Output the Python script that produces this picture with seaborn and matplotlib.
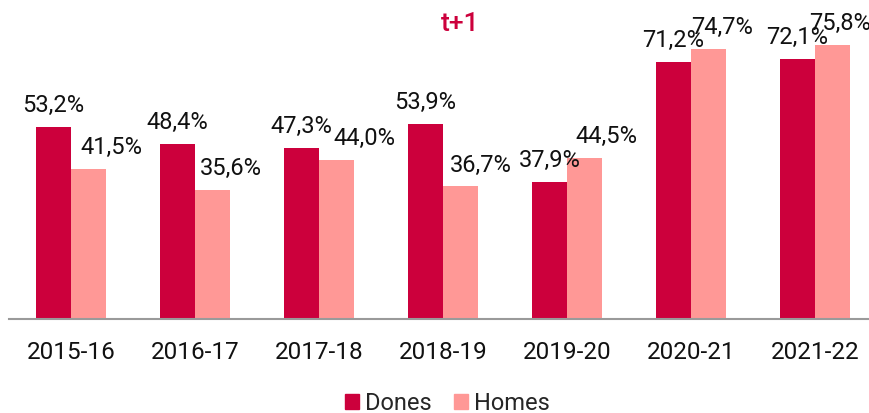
import pandas as pd
import matplotlib.pyplot as plt
import seaborn as sns

# Data
cursos = ["2015-16", "2016-17", "2017-18", "2018-19", "2019-20", "2020-21", "2021-22"]
dones = [53.2, 48.4, 47.3, 53.9, 37.9, 71.2, 72.1]
homes = [41.5, 35.6, 44.0, 36.7, 44.5, 74.7, 75.8]

df = pd.DataFrame({
    "Curs": cursos * 2,
    "Sexe": ["Dones"] * len(cursos) + ["Homes"] * len(cursos),
    "Valor": dones + homes,
})

colors = {"Dones": "#CC003C", "Homes": "#FF9896"}

sns.set_style("white")
plt.rcParams["font.family"] = ["Roboto", "DejaVu Sans"]

fig = plt.figure(figsize=(8.7, 4.14), dpi=100)
ax = fig.add_axes([9 / 870, 94 / 414, 868 / 870, 320 / 414])

sns.barplot(data=df, x="Curs", y="Valor", hue="Sexe", palette=colors,
            width=0.57, saturation=1, linewidth=0, ax=ax, legend=False)

ax.set_xlim(-0.5, 6.5)
ax.set_ylim(0, 88.6)
ax.set_xlabel("")
ax.set_ylabel("")
ax.set_yticks([])

# Axis line and separators between categories
for s in ["top", "right", "left"]:
    ax.spines[s].set_visible(False)
ax.spines["bottom"].set_color("#9a9a9a")
ax.spines["bottom"].set_linewidth(1.5)
ax.set_xticks(range(len(cursos)))
ax.set_xticklabels(cursos, fontsize=17.5, color="#111111")
ax.tick_params(axis="x", which="major", length=0, pad=15)
ax.set_xticks([i - 0.5 for i in range(len(cursos) + 1)], minor=True)
ax.tick_params(axis="x", which="minor", length=7, width=1.5, color="#9a9a9a", direction="out")

# Data labels
def fmt(v):
    return f"{v:.1f}".replace(".", ",") + "%"

# horizontal shift of the Homes labels (px), as in the original layout
homes_dx = [23, 18, 28, 20, 22, 13, 7]

n = len(cursos)
for i, p in enumerate(ax.patches[:2 * n]):
    v = p.get_height()
    cx = p.get_x() + p.get_width() / 2
    dx = 0 if i < n else homes_dx[i - n] * 0.72
    ax.annotate(fmt(v), (cx, v), xytext=(dx, 11.5), textcoords="offset points",
                ha="center", va="baseline", fontsize=17, color="#111111",
                annotation_clip=False)

# Legend
handles = [plt.Rectangle((0, 0), 1, 1, color=colors[k]) for k in ["Dones", "Homes"]]
fig.legend(handles, ["Dones", "Homes"], loc="lower center", ncol=2,
           bbox_to_anchor=(0.514, -0.032), frameon=False,
           prop={"size": 17},
           handlelength=0.6, handleheight=0.6, handletextpad=0.25,
           columnspacing=0.95, borderpad=0)

# Title (second line visible)
fig.text(460 / 870, 1 - 24 / 414, "t+1", ha="center", va="center",
         fontsize=19, fontweight="medium", color="#CC003C")

fig.savefig("out.png", dpi=100)
